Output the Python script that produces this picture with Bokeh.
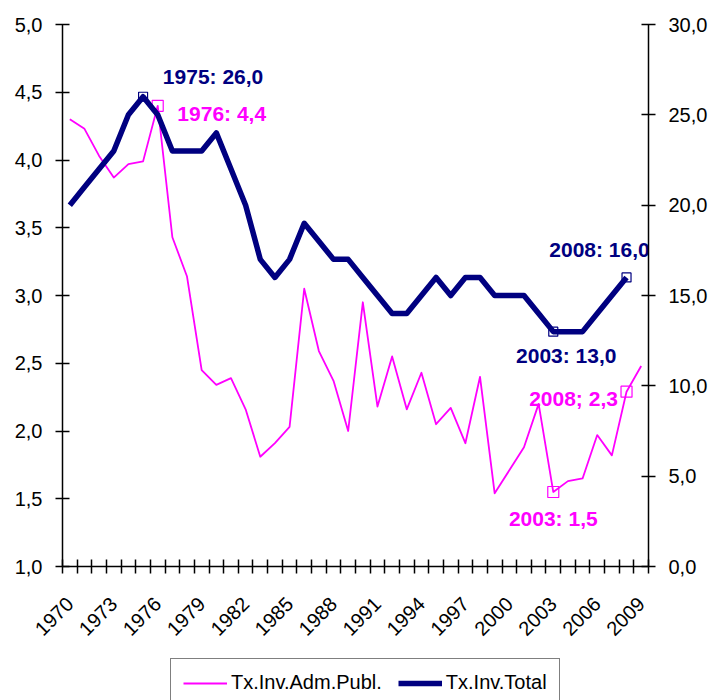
import math
from bokeh.plotting import figure
from bokeh.layouts import column
from bokeh.models import (Range1d, LinearAxis, FixedTicker, CustomJSTickFormatter,
                          Legend, LegendItem, ColumnDataSource)
from bokeh.core.properties import value
from bokeh.embed import file_html
from bokeh.resources import INLINE

# ---------------- data ----------------
years = list(range(1970, 2010))
adm_publ = [4.30, 4.23, 4.03, 3.87, 3.97, 3.99, 4.40, 3.43, 3.14, 2.45,
            2.34, 2.39, 2.16, 1.81, 1.91, 2.03, 3.05, 2.59, 2.37, 2.00,
            2.95, 2.18, 2.55, 2.16, 2.43, 2.05, 2.17, 1.91, 2.40, 1.54,
            1.71, 1.88, 2.20, 1.55, 1.63, 1.65, 1.97, 1.82, 2.29, 2.48]
inv_total = [20, 21, 22, 23, 25, 26, 25, 23, 23, 23,
             24, 22, 20, 17, 16, 17, 19, 18, 17, 17,
             16, 15, 14, 14, 15, 16, 15, 16, 16, 15,
             15, 15, 14, 13, 13, 13, 14, 15, 16, float("nan")]

series_names = ["Tx.Inv.Adm.Publ.", "Tx.Inv.Total"]

x_tick_years = list(range(1970, 2010, 3))
left_ticks = [1.0, 1.5, 2.0, 2.5, 3.0, 3.5, 4.0, 4.5, 5.0]
right_ticks = [0, 5, 10, 15, 20, 25, 30]

ann_total_years = [1975, 2003, 2008]
ann_total_labels = ["1975: 26,0", "2003: 13,0", "2008: 16,0"]
ann_adm_years = [1976, 2003, 2008]
ann_adm_labels = ["1976: 4,4", "2003: 1,5", "2008; 2,3"]

# label offsets (screen px) relative to the highlighted point
ann_total_dx = [70, 13, -27]
ann_total_dy = [-20, 24, -28]
ann_adm_dx = [64, 0, -53]
ann_adm_dy = [8, 27, 7]

PINK = "#FF00FF"
NAVY = "#000080"
FONT = "Liberation Sans"
TICK_FS = "20px"
W_ADM, W_TOT = 1.8, 5.5

# ---------------- main figure ----------------
p = figure(width=712, height=650, output_backend="svg", toolbar_location=None,
           x_range=Range1d(1969.5, 2009.5), y_range=Range1d(1.0, 5.0),
           x_axis_type=None, y_axis_type=None,
           min_border_left=62, min_border_right=64, min_border_top=24,
           min_border_bottom=84)
p.extra_y_ranges = {"right": Range1d(0, 30)}
p.outline_line_color = None
p.background_fill_color = "white"
p.border_fill_color = "white"

def style_axis(ax):
    ax.axis_line_color = "black"
    ax.axis_line_width = 1.5
    ax.major_tick_line_color = "black"
    ax.major_tick_line_width = 1.5
    ax.major_tick_in = 7
    ax.major_tick_out = 7
    ax.minor_tick_line_color = None
    ax.major_label_text_font = FONT
    ax.major_label_text_font_size = TICK_FS
    ax.major_label_text_color = "black"

yl = LinearAxis(ticker=FixedTicker(ticks=left_ticks),
                formatter=CustomJSTickFormatter(code="return tick.toFixed(1).replace('.', ',');"))
style_axis(yl)
yl.major_label_standoff = 13
p.add_layout(yl, "left")

yr = LinearAxis(y_range_name="right", ticker=FixedTicker(ticks=right_ticks),
                formatter=CustomJSTickFormatter(code="return tick.toFixed(1).replace('.', ',');"))
style_axis(yr)
yr.major_label_standoff = 13
p.add_layout(yr, "right")

xa = LinearAxis(ticker=FixedTicker(ticks=x_tick_years,
                                   minor_ticks=[y - 0.5 for y in range(1970, 2011)]))
xa.axis_line_color = "black"
xa.axis_line_width = 1.5
xa.major_tick_line_color = None
xa.major_tick_in = 0
xa.major_tick_out = 0
xa.minor_tick_line_color = "black"
xa.minor_tick_line_width = 1.5
xa.minor_tick_in = 7
xa.minor_tick_out = 7
xa.major_label_orientation = math.pi / 4
xa.major_label_standoff = 27
xa.major_label_text_font = FONT
xa.major_label_text_font_size = TICK_FS
xa.major_label_text_color = "black"
p.add_layout(xa, "below")

# ---------------- highlighted point markers (under lines) ----------------
adm_pts = ColumnDataSource(dict(
    x=ann_adm_years,
    y=[adm_publ[years.index(y)] for y in ann_adm_years],
    label=ann_adm_labels, dx=ann_adm_dx, dy=ann_adm_dy))
tot_pts = ColumnDataSource(dict(
    x=ann_total_years,
    y=[inv_total[years.index(y)] for y in ann_total_years],
    label=ann_total_labels, dx=ann_total_dx, dy=ann_total_dy))

p.scatter("x", "y", source=adm_pts, marker="square", size=11,
          line_color=PINK, line_width=1.2, fill_color="white")
p.scatter("x", "y", source=tot_pts, marker="square", size=9, y_range_name="right",
          line_color=NAVY, line_width=1.2, fill_color="white")

# ---------------- series ----------------
p.line(years, adm_publ, line_color=PINK, line_width=W_ADM, line_join="round")
p.line(years, inv_total, line_color=NAVY, line_width=W_TOT, line_join="round",
       y_range_name="right")

# ---------------- annotations ----------------
p.text("x", "y", text="label", source=adm_pts, x_offset="dx", y_offset="dy",
       text_align="center", text_baseline="middle", text_color=PINK,
       text_font=value(FONT), text_font_style="bold", text_font_size=value("21px"))
p.text("x", "y", text="label", source=tot_pts, x_offset="dx", y_offset="dy",
       y_range_name="right",
       text_align="center", text_baseline="middle", text_color=NAVY,
       text_font=value(FONT), text_font_style="bold", text_font_size=value("21px"))

# ---------------- legend strip (separate small figure) ----------------
lg = figure(width=712, height=50, output_backend="svg", toolbar_location=None,
            x_range=Range1d(0, 1), y_range=Range1d(0, 1),
            x_axis_type=None, y_axis_type=None, min_border=0)
lg.outline_line_color = None
lg.grid.visible = False
lg.background_fill_color = "white"
lg.border_fill_color = "white"
nan = float("nan")
k_adm = lg.line([nan], [nan], line_color=PINK, line_width=W_ADM)
k_tot = lg.line([nan], [nan], line_color=NAVY, line_width=W_TOT)

legend = Legend(items=[LegendItem(label=series_names[0], renderers=[k_adm]),
                       LegendItem(label=series_names[1], renderers=[k_tot])],
                orientation="horizontal", location=(108, -7), margin=0,
                padding=12, spacing=16, glyph_width=44, glyph_height=20,
                label_standoff=4, label_text_font=FONT, label_text_font_size=TICK_FS,
                label_text_color="black",
                border_line_color="black", border_line_width=1,
                background_fill_color="white", background_fill_alpha=1)
lg.add_layout(legend)

layout = column(p, lg, spacing=0)
open("out.html", "w").write(file_html(layout, INLINE))
